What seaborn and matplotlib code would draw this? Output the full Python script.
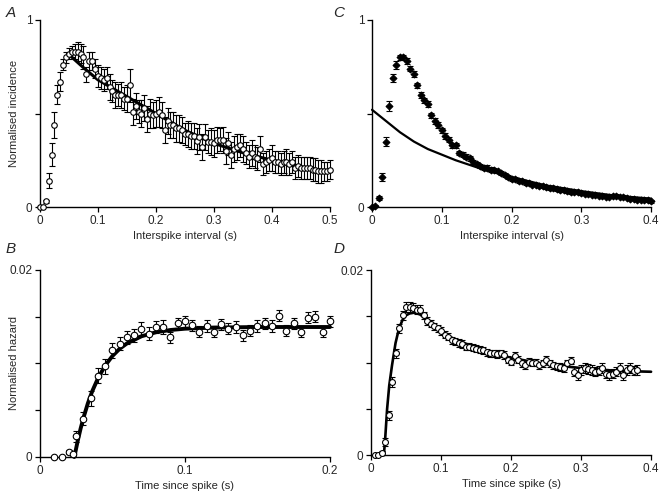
import numpy as np
import pandas as pd
import matplotlib
matplotlib.use("Agg")
import matplotlib.pyplot as plt
import seaborn as sns

sns.set_style("ticks")
plt.rcParams['font.family'] = ['Liberation Sans', 'DejaVu Sans']

# ---------------- Panel A: ISI distribution (open circles) ----------------
a_x = np.round(np.arange(0, 0.5001, 0.005), 3)
a_y = [0.00, 0.00, 0.03, 0.14, 0.28, 0.44, 0.60, 0.67, 0.76, 0.80,
       0.82, 0.83, 0.83, 0.83, 0.82, 0.80, 0.71, 0.78, 0.78, 0.74,
       0.70, 0.69, 0.68, 0.69, 0.64, 0.62, 0.60, 0.60, 0.60, 0.58,
       0.58, 0.65, 0.51, 0.54, 0.51, 0.50, 0.53, 0.47, 0.50, 0.49,
       0.50, 0.51, 0.49, 0.41, 0.46, 0.44, 0.44, 0.42, 0.42, 0.41,
       0.39, 0.39, 0.38, 0.38, 0.355, 0.376, 0.32, 0.376, 0.35, 0.35,
       0.34, 0.36, 0.36, 0.36, 0.30, 0.34, 0.28, 0.31, 0.32, 0.33,
       0.31, 0.29, 0.27, 0.29, 0.27, 0.26, 0.31, 0.23, 0.24, 0.25,
       0.26, 0.24, 0.24, 0.23, 0.24, 0.24, 0.23, 0.24, 0.21, 0.22,
       0.21, 0.21, 0.21, 0.21, 0.20, 0.20, 0.19, 0.19, 0.19, 0.19,
       0.20]
a_err = [0.00, 0.00, 0.01, 0.04, 0.06, 0.07, 0.05, 0.05, 0.03, 0.03,
         0.03, 0.03, 0.04, 0.05, 0.05, 0.06, 0.04, 0.05, 0.05, 0.05,
         0.06, 0.06, 0.06, 0.06, 0.07, 0.06, 0.07, 0.06, 0.07, 0.06,
         0.07, 0.09, 0.07, 0.07, 0.06, 0.07, 0.07, 0.07, 0.08, 0.07,
         0.07, 0.08, 0.07, 0.07, 0.07, 0.07, 0.07, 0.07, 0.07, 0.07,
         0.06, 0.07, 0.07, 0.07, 0.07, 0.07, 0.07, 0.07, 0.06, 0.07,
         0.07, 0.07, 0.06, 0.07, 0.07, 0.06, 0.07, 0.07, 0.07, 0.06,
         0.07, 0.06, 0.06, 0.07, 0.06, 0.06, 0.07, 0.06, 0.06, 0.06,
         0.07, 0.06, 0.06, 0.06, 0.06, 0.07, 0.06, 0.06, 0.06, 0.06,
         0.06, 0.06, 0.06, 0.06, 0.06, 0.06, 0.06, 0.06, 0.05, 0.05,
         0.05]
a_fit_x = [0.05, 0.075, 0.10, 0.125, 0.15, 0.175, 0.20, 0.25, 0.30, 0.35, 0.40, 0.45, 0.50]
a_fit_y = [0.815, 0.745, 0.68, 0.635, 0.59, 0.545, 0.50, 0.41, 0.34, 0.29, 0.25, 0.215, 0.19]

# ---------------- Panel C: ISI distribution (filled symbols) ----------------
c_x = np.round(np.arange(0, 0.4001, 0.005), 3)
c_y = [0.00, 0.005, 0.05, 0.16, 0.35, 0.54, 0.69, 0.76, 0.80, 0.80,
       0.78, 0.74, 0.71, 0.65, 0.60, 0.57, 0.55, 0.49, 0.46, 0.44,
       0.41, 0.38, 0.36, 0.33, 0.33, 0.29, 0.28, 0.27, 0.26, 0.24,
       0.23, 0.22, 0.21, 0.21, 0.20, 0.20, 0.19, 0.18, 0.17, 0.16,
       0.15, 0.15, 0.14, 0.14, 0.13, 0.13, 0.12, 0.12, 0.115, 0.11,
       0.105, 0.10, 0.10, 0.095, 0.09, 0.09, 0.085, 0.08, 0.08, 0.08,
       0.075, 0.07, 0.07, 0.065, 0.065, 0.06, 0.06, 0.055, 0.055, 0.06,
       0.06, 0.055, 0.055, 0.05, 0.045, 0.045, 0.04, 0.04, 0.04, 0.035,
       0.03]
c_err = [0.0, 0.005, 0.01, 0.02, 0.025, 0.025, 0.02, 0.02, 0.015, 0.015,
         0.015, 0.015, 0.015, 0.015, 0.015, 0.015, 0.015, 0.015, 0.015, 0.015,
         0.015, 0.015, 0.015, 0.012, 0.012, 0.012, 0.012, 0.012, 0.012, 0.012,
         0.012, 0.012, 0.012, 0.012, 0.012, 0.01, 0.01, 0.01, 0.01, 0.01,
         0.01, 0.01, 0.01, 0.01, 0.01, 0.01, 0.01, 0.01, 0.01, 0.01,
         0.01, 0.01, 0.01, 0.01, 0.01, 0.01, 0.01, 0.01, 0.01, 0.01,
         0.01, 0.008, 0.008, 0.008, 0.008, 0.008, 0.008, 0.008, 0.008, 0.008,
         0.008, 0.008, 0.008, 0.008, 0.008, 0.008, 0.008, 0.008, 0.008, 0.008,
         0.008]
c_fit_x = [0.0, 0.02, 0.04, 0.06, 0.08, 0.10, 0.12, 0.14, 0.16, 0.18, 0.20, 0.25, 0.30, 0.35, 0.40]
c_fit_y = [0.52, 0.46, 0.40, 0.35, 0.31, 0.28, 0.25, 0.225, 0.20, 0.18, 0.16, 0.115, 0.085, 0.06, 0.045]

# ---------------- Panel B: hazard (open circles) ----------------
b_x = [0.010, 0.015, 0.020, 0.0225, 0.025, 0.030, 0.035, 0.040, 0.045, 0.050,
       0.055, 0.060, 0.065, 0.070, 0.075, 0.080, 0.085, 0.090, 0.095, 0.100,
       0.105, 0.110, 0.115, 0.120, 0.125, 0.130, 0.135, 0.140, 0.145, 0.150,
       0.155, 0.160, 0.165, 0.170, 0.175, 0.180, 0.185, 0.190, 0.195, 0.200]
b_y = [0.0, 0.0, 0.0005, 0.0003, 0.0022, 0.0041, 0.0063, 0.0087, 0.0097, 0.0114,
       0.0121, 0.0128, 0.0130, 0.0137, 0.0132, 0.0139, 0.0139, 0.0128, 0.0143, 0.0145,
       0.0141, 0.0134, 0.0140, 0.0134, 0.0142, 0.0137, 0.0139, 0.0130, 0.0135, 0.0140,
       0.0143, 0.0140, 0.0151, 0.0135, 0.0143, 0.0134, 0.0149, 0.0150, 0.0134, 0.0145]
b_err = [0.0, 0.0, 0.0002, 0.0002, 0.0006, 0.0007, 0.0008, 0.0008, 0.0008, 0.0008,
         0.0007, 0.0007, 0.0007, 0.0007, 0.0007, 0.0006, 0.0007, 0.0006, 0.0006, 0.0006,
         0.0006, 0.0006, 0.0006, 0.0006, 0.0006, 0.0006, 0.0006, 0.0006, 0.0006, 0.0006,
         0.0006, 0.0006, 0.0006, 0.0006, 0.0006, 0.0006, 0.0006, 0.0006, 0.0006, 0.0006]
b_fit_x = [0.0237, 0.026, 0.028, 0.030, 0.033, 0.036, 0.040, 0.045, 0.050, 0.055,
           0.060, 0.070, 0.080, 0.090, 0.100, 0.120, 0.150, 0.200]
b_fit_y = [0.0, 0.00171, 0.00303, 0.00420, 0.00573, 0.00702, 0.00842, 0.00979, 0.01081, 0.01158,
           0.01215, 0.01291, 0.01334, 0.01358, 0.01372, 0.01384, 0.0139, 0.0139]

# ---------------- Panel D: hazard (open circles) ----------------
d_x = np.round(np.arange(0.005, 0.3801, 0.005), 3)
d_y = [0.0, 0.0, 0.0002, 0.0014, 0.0043, 0.0079, 0.0110, 0.0137, 0.0151, 0.0160,
       0.0160, 0.0159, 0.0157, 0.0157, 0.0151, 0.0145, 0.0142, 0.0139, 0.0137, 0.0134,
       0.0130, 0.0128, 0.0124, 0.0123, 0.0121, 0.0120, 0.0117, 0.0117, 0.0116, 0.0115,
       0.0114, 0.0113, 0.0111, 0.0110, 0.0110, 0.0109, 0.0110, 0.0108, 0.0103, 0.0101,
       0.0107, 0.0103, 0.0099, 0.0097, 0.0101, 0.0100, 0.0100, 0.0097, 0.0099, 0.0103,
       0.0099, 0.0097, 0.0096, 0.0095, 0.0094, 0.0099, 0.0102, 0.0090, 0.0086, 0.0092,
       0.0094, 0.0093, 0.0092, 0.0090, 0.0091, 0.0094, 0.0088, 0.0086, 0.0088, 0.0090,
       0.0094, 0.0086, 0.0092, 0.0094, 0.0091, 0.0092]
d_err = [0.0, 0.0, 0.0002, 0.0004, 0.0005, 0.0005, 0.0005, 0.0005, 0.0005, 0.0005,
         0.0005, 0.0005, 0.0005, 0.0005, 0.0004, 0.0004, 0.0004, 0.0004, 0.0004, 0.0004,
         0.0004, 0.0004, 0.0004, 0.0004, 0.0004, 0.0004, 0.0004, 0.0004, 0.0004, 0.0004,
         0.0004, 0.0004, 0.0004, 0.0004, 0.0004, 0.0004, 0.0004, 0.0004, 0.0004, 0.0004,
         0.0004, 0.0004, 0.0004, 0.0004, 0.0004, 0.0004, 0.0004, 0.0004, 0.0004, 0.0004,
         0.0004, 0.0004, 0.0004, 0.0004, 0.0004, 0.0004, 0.0004, 0.0005, 0.0005, 0.0005,
         0.0005, 0.0005, 0.0005, 0.0005, 0.0005, 0.0005, 0.0005, 0.0005, 0.0005, 0.0005,
         0.0005, 0.0005, 0.0005, 0.0005, 0.0005, 0.0005]
d_fit_x = [0.0183, 0.020, 0.023, 0.026, 0.030, 0.035, 0.040, 0.045, 0.050, 0.055,
           0.062, 0.070, 0.080, 0.090, 0.100, 0.120, 0.150, 0.200, 0.250, 0.300, 0.350, 0.400]
d_fit_y = [0.0, 0.0015, 0.0050, 0.0075, 0.0097, 0.0121, 0.0137, 0.0146, 0.0151, 0.0153,
           0.0154, 0.0152, 0.0146, 0.0139, 0.0133, 0.0125, 0.0116, 0.0105, 0.0098, 0.0094, 0.0091, 0.0090]

TICK_FS = 8.5
LAB_FS = 8

fig = plt.figure(figsize=(6.61, 4.95), dpi=100)
axA = fig.add_axes([0.0605, 0.5818, 0.4387, 0.3778])
axC = fig.add_axes([0.5628, 0.5818, 0.4222, 0.3778])
axB = fig.add_axes([0.0605, 0.0768, 0.4387, 0.3778])
axD = fig.add_axes([0.5613, 0.0808, 0.4237, 0.3737])


def style(ax, xlim, xticks, xlabels, ylim, yticks, ylabels, xlabel, ylabel=None):
    ax.set_xlim(*xlim)
    ax.set_ylim(*ylim)
    ax.set_xticks(xticks)
    ax.set_xticklabels(xlabels, fontsize=TICK_FS)
    ax.set_yticks(yticks)
    ax.set_yticklabels(ylabels, fontsize=TICK_FS)
    ax.set_xlabel(xlabel, fontsize=LAB_FS, labelpad=3)
    if ylabel:
        ax.set_ylabel(ylabel, fontsize=LAB_FS)
        ax.yaxis.set_label_coords(-0.072, 0.5)
    else:
        ax.set_ylabel("")
    for s in ("top", "right"):
        ax.spines[s].set_visible(False)
    for s in ("left", "bottom"):
        ax.spines[s].set_linewidth(1.0)
        ax.spines[s].set_color("black")
    ax.tick_params(direction="out", length=3.5, width=0.9, color="black", pad=2)


def panel(ax, x, y, err, fx, fy, filled, ms, mk, fit_lw):
    ax.errorbar(x, y, yerr=err, fmt="none", ecolor="black", elinewidth=0.8,
                capsize=2.2, capthick=0.8, zorder=2, clip_on=False)
    fit = pd.DataFrame({"x": fx, "y": fy})
    sns.lineplot(data=fit, x="x", y="y", ax=ax, color="black", lw=fit_lw,
                 zorder=3, clip_on=False, estimator=None, sort=False)
    pts = pd.DataFrame({"x": x, "y": y})
    sns.scatterplot(data=pts, x="x", y="y", ax=ax, marker=mk, s=ms,
                    facecolor="black" if filled else "white", edgecolor="black",
                    linewidth=0.8, zorder=4, clip_on=False)


panel(axA, a_x, a_y, a_err, a_fit_x, a_fit_y, False, 16, "o", 2.2)
style(axA, (0, 0.5), [0, 0.1, 0.2, 0.3, 0.4, 0.5], ["0", "0.1", "0.2", "0.3", "0.4", "0.5"],
      (0, 1), [0, 0.5, 1], ["0", "", "1"], "Interspike interval (s)", "Normalised incidence")

panel(axC, c_x, c_y, c_err, c_fit_x, c_fit_y, True, 12, "D", 1.6)
style(axC, (0, 0.4), [0, 0.1, 0.2, 0.3, 0.4], ["0", "0.1", "0.2", "0.3", "0.4"],
      (0, 1), [0, 0.5, 1], ["0", "", "1"], "Interspike interval (s)")

panel(axB, b_x, b_y, b_err, b_fit_x, b_fit_y, False, 22, "o", 2.8)
style(axB, (0, 0.2), [0, 0.1, 0.2], ["0", "0.1", "0.2"],
      (0, 0.02), [0, 0.005, 0.01, 0.015, 0.02], ["0", "", "", "", "0.02"],
      "Time since spike (s)", "Normalised hazard")

panel(axD, d_x, d_y, d_err, d_fit_x, d_fit_y, False, 18, "o", 1.9)
style(axD, (0, 0.4), [0, 0.1, 0.2, 0.3, 0.4], ["0", "0.1", "0.2", "0.3", "0.4"],
      (0, 0.02), [0, 0.005, 0.01, 0.015, 0.02], ["0", "", "", "", "0.02"],
      "Time since spike (s)")

for lab, (fx, fy) in {"A": (0.008, 0.988), "B": (0.008, 0.512),
                      "C": (0.504, 0.988), "D": (0.504, 0.512)}.items():
    fig.text(fx, fy, lab, fontsize=11, fontstyle="italic", va="top", ha="left")

fig.savefig("out.png", dpi=100)
